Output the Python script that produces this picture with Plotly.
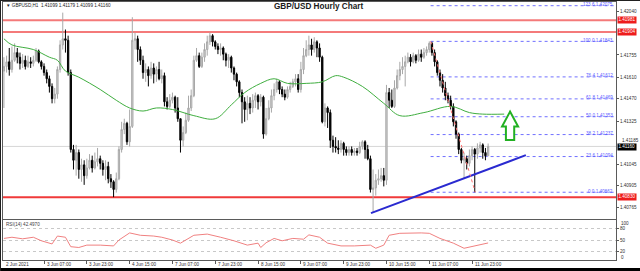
import plotly.graph_objects as go

W, H = 640, 271

def fx(p):
    return p / W

def fy(p):
    return 1 - p / H

# ---------------- data ----------------
bar_index = list(range(182))
first_open = 1.4165
closes = [1.4168,1.4171,1.4166,1.4172,1.4177,1.4174,1.4170,1.4172,1.4168,1.4171,
1.4170,1.4172,1.4178,1.4171,1.4168,1.4164,1.4160,1.4155,1.4147,1.4150,
1.4166,1.4182,1.4186,1.4185,1.4164,1.4114,1.4107,1.4112,1.4101,1.4104,
1.4097,1.4102,1.4107,1.4102,1.4106,1.4108,1.4105,1.4101,1.4103,1.4095,
1.4093,1.4088,1.4095,1.4114,1.4127,1.4131,1.4119,1.4129,1.4185,1.4186,
1.4179,1.4172,1.4164,1.4166,1.4162,1.4167,1.4163,1.4166,1.4160,1.4162,
1.4145,1.4142,1.4146,1.4148,1.4141,1.4134,1.4120,1.4125,1.4133,1.4141,
1.4149,1.4172,1.4175,1.4168,1.4174,1.4179,1.4184,1.4188,1.4184,1.4181,
1.4179,1.4180,1.4176,1.4172,1.4174,1.4167,1.4163,1.4158,1.4151,1.4145,
1.4140,1.4144,1.4141,1.4146,1.4149,1.4145,1.4148,1.4124,1.4134,1.4141,
1.4149,1.4153,1.4158,1.4153,1.4150,1.4148,1.4153,1.4155,1.4158,1.4160,
1.4153,1.4166,1.4175,1.4179,1.4182,1.4179,1.4184,1.4180,1.4174,1.4132,
1.4141,1.4138,1.4120,1.4116,1.4115,1.4114,1.4118,1.4114,1.4112,1.4114,
1.4112,1.4113,1.4112,1.4116,1.4119,1.4114,1.4108,1.4088,1.4089,1.4094,
1.4095,1.4097,1.4094,1.4151,1.4146,1.4142,1.4154,1.4162,1.4166,1.4168,
1.4171,1.4174,1.4171,1.4175,1.4172,1.4176,1.4174,1.4177,1.4179,1.4183,
1.4177,1.4171,1.4164,1.4159,1.4154,1.4149,1.4146,1.4142,1.4132,1.4124,
1.4114,1.4107,1.4108,1.4105,1.4110,1.4114,1.4111,1.4115,1.4117,1.4112,
1.41099,1.41160]
highs = [1.4174,1.4175,1.4180,1.4181,1.4183,1.4180,1.4177,1.4176,1.4175,1.4175,
1.4174,1.4175,1.4180,1.4179,1.4172,1.4170,1.4166,1.4162,1.4157,1.4154,
1.4168,1.4185,1.4203,1.4192,1.4188,1.4166,1.4117,1.4117,1.4114,1.4108,
1.4107,1.4108,1.4111,1.4110,1.4112,1.4115,1.4110,1.4107,1.4107,1.4106,
1.4098,1.4094,1.4099,1.4116,1.4132,1.4134,1.4132,1.4140,1.4200,1.4190,
1.4188,1.4181,1.4175,1.4170,1.4168,1.4171,1.4170,1.4168,1.4171,1.4166,
1.4164,1.4148,1.4150,1.4151,1.4149,1.4148,1.4134,1.4129,1.4138,1.4149,
1.4153,1.4175,1.4180,1.4177,1.4177,1.4183,1.4188,1.4190,1.4189,1.4185,
1.4183,1.4183,1.4181,1.4177,1.4176,1.4175,1.4168,1.4164,1.4159,1.4153,
1.4148,1.4149,1.4148,1.4150,1.4151,1.4150,1.4150,1.4149,1.4141,1.4146,
1.4153,1.4157,1.4160,1.4159,1.4155,1.4153,1.4155,1.4158,1.4160,1.4163,
1.4163,1.4171,1.4180,1.4185,1.4188,1.4186,1.4187,1.4185,1.4183,1.4175,
1.4144,1.4142,1.4140,1.4123,1.4122,1.4120,1.4120,1.4119,1.4116,1.4116,
1.4116,1.4115,1.4115,1.4119,1.4120,1.4120,1.4117,1.4110,1.4101,1.4098,
1.4101,1.4102,1.4102,1.4156,1.4154,1.4153,1.4159,1.4166,1.4171,1.4174,
1.4175,1.4177,1.4176,1.4177,1.4176,1.4179,1.4179,1.4180,1.4181,1.41843,
1.4184,1.4179,1.4172,1.4166,1.4163,1.4158,1.4151,1.4149,1.4144,1.4133,
1.4125,1.4115,1.4112,1.4110,1.4114,1.4116,1.4115,1.4118,1.4119,1.4118,
1.4115,1.41179]
lows = [1.4141,1.4164,1.4162,1.4164,1.4171,1.4170,1.4166,1.4167,1.4166,1.4167,
1.4167,1.4168,1.4171,1.4170,1.4166,1.4162,1.4157,1.4151,1.4144,1.4144,
1.4147,1.4164,1.4179,1.4177,1.4162,1.4112,1.4101,1.4097,1.4095,1.4093,
1.4091,1.4095,1.4101,1.4099,1.4101,1.4103,1.4101,1.4097,1.4094,1.4092,
1.4089,1.4083,1.4086,1.4094,1.4112,1.4124,1.4117,1.4116,1.4128,1.4179,
1.4171,1.4169,1.4160,1.4158,1.4155,1.4160,1.4157,1.4158,1.4159,1.4157,
1.4142,1.4140,1.4141,1.4144,1.4138,1.4132,1.4112,1.4116,1.4124,1.4132,
1.4139,1.4148,1.4171,1.4167,1.4167,1.4171,1.4175,1.4182,1.4181,1.4179,
1.4176,1.4175,1.4172,1.4168,1.4167,1.4164,1.4159,1.4155,1.4148,1.4131,
1.4132,1.4133,1.4137,1.4138,1.4141,1.4140,1.4142,1.4121,1.4123,1.4133,
1.4138,1.4146,1.4151,1.4150,1.4148,1.4146,1.4147,1.4151,1.4154,1.4155,
1.4151,1.4151,1.4163,1.4174,1.4175,1.4175,1.4177,1.4174,1.4171,1.4131,
1.4129,1.4128,1.4115,1.4112,1.4112,1.4111,1.4112,1.4110,1.4110,1.4110,
1.4110,1.4110,1.4110,1.4111,1.4114,1.4108,1.4107,1.4086,1.4073,1.4084,
1.4091,1.4093,1.4090,1.4091,1.4141,1.4141,1.4141,1.4153,1.4159,1.4163,
1.4155,1.4170,1.4168,1.4170,1.4170,1.4171,1.4171,1.4173,1.4175,1.4177,
1.4175,1.4168,1.4162,1.4155,1.4151,1.4146,1.4144,1.4140,1.4129,1.4121,
1.4111,1.4105,1.4095,1.4101,1.4103,1.4107,1.40862,1.4108,1.4112,1.4108,
1.4107,1.41099]
opens = [first_open] + closes[:-1]

ma_idx = [0,3,11,17,20,23,28,36,42,47,52,57,63,71,79,85,90,96,101,106,113,119,124,127,134,142,148,157,167,174,179,187]
ma_val = [1.4186,1.4182,1.4179,1.4174,1.4172,1.4165,1.4161,1.4153,1.4146,1.4141,1.4139,1.4141,1.4140,1.4136,1.4134,1.4143,
          1.4151,1.4157,1.4160,1.4157,1.4157,1.4158,1.4162,1.4161,1.4155,1.4144,1.4136,1.4138,1.4142,1.4138,1.4137,1.4137]

rsi_idx = [0,3,7,11,14,18,20,23,25,28,31,36,41,43,47,51,56,59,63,66,71,76,81,86,91,95,96,98,101,104,
           108,112,114,118,121,126,131,137,139,142,144,148,156,159,163,168,172,176,178,181]
rsi_val = [54,57,53,57,48,40,60,57,33,31,37,37,35,50,68,62,60,57,50,42,62,65,57,48,37,42,31,43,54,48,
           54,52,63,57,42,35,35,37,29,37,62,67,68,67,54,42,29,35,37,42.497]
rsi_levels = [80, 50, 20]

fib_pct = ["0.0", "23.6", "38.2", "50.0", "61.8", "76.4", "100.0", "123.6"]
fib_price = [1.40862, 1.41094, 1.41237, 1.41353, 1.41469, 1.41612, 1.41843, 1.42075]
fib_anchor_idx = [159.5, 176.2]
fib_anchor_price = [1.41843, 1.40862]

resist_levels = [1.41981, 1.41904]
support_level = 1.40830
current_price = 1.41160

trend_idx = [137.2, 195.1]
trend_price = [1.40726, 1.41103]

arrow_idx = 189.2
arrow_top, arrow_neck, arrow_bottom = 1.41386, 1.41289, 1.41202
arrow_head_half, arrow_shaft_half = 3.0, 1.55

price_ticks = [1.42040, 1.41755, 1.41610, 1.41470, 1.41325, 1.41045, 1.40905, 1.40765]
price_tick_near_bid = 1.41185
date_idx = [0, 15, 31, 47, 63, 79, 95, 111, 127, 143, 159, 175]
date_text = ["2 Jun 2021", "3 Jun 07:00", "3 Jun 23:00", "4 Jun 15:00", "7 Jun 07:00", "7 Jun 23:00",
             "8 Jun 15:00", "9 Jun 07:00", "9 Jun 23:00", "10 Jun 15:00", "11 Jun 07:00", "11 Jun 23:00"]
header_text = "\u25bc GBPUSD,H1  1.41099 1.41179 1.41099 1.41160"
title_text = "GBP/USD Hourly Chart"
rsi_text = "RSI(14) 42.4970"

# ---------------- figure ----------------
FONT = "Liberation Sans"
SMALL = 4.6
X_RANGE = [-0.34, 228.8]

fig = go.Figure()

fig.add_trace(go.Candlestick(
    x=bar_index, open=opens, high=highs, low=lows, close=closes,
    increasing=dict(line=dict(color="#a8a8a8", width=1), fillcolor="#d4d4d4"),
    decreasing=dict(line=dict(color="#000000", width=1), fillcolor="#000000"),
    whiskerwidth=0, hoverinfo="skip", showlegend=False, xaxis="x", yaxis="y"))

fig.add_trace(go.Scatter(x=ma_idx, y=ma_val, mode="lines", line=dict(color="#3fae3f", width=1, shape="spline"),
                         hoverinfo="skip", showlegend=False, xaxis="x", yaxis="y"))

fig.add_trace(go.Scatter(x=trend_idx, y=trend_price, mode="lines", line=dict(color="#2a2ad0", width=2),
                         hoverinfo="skip", showlegend=False, xaxis="x", yaxis="y"))

fig.add_trace(go.Scatter(x=rsi_idx, y=rsi_val, mode="lines", line=dict(color="#f08080", width=1),
                         hoverinfo="skip", showlegend=False, xaxis="x2", yaxis="y2"))

shapes = []
shapes.append(dict(type="line", xref="x domain", x0=0, x1=1, yref="y", y0=current_price, y1=current_price,
                   line=dict(color="#d6d6d6", width=1), layer="below"))
for lv in resist_levels:
    shapes.append(dict(type="line", xref="x domain", x0=0, x1=1, yref="y", y0=lv, y1=lv,
                       line=dict(color="#f47a7a", width=2), layer="below"))
shapes.append(dict(type="line", xref="x domain", x0=0, x1=1, yref="y", y0=support_level, y1=support_level,
                   line=dict(color="#f03a3a", width=2), layer="below"))
for fp in fib_price:
    shapes.append(dict(type="line", xref="x", x0=fib_anchor_idx[0], x1=X_RANGE[1], yref="y", y0=fp, y1=fp,
                       line=dict(color="#7070ff", width=1, dash="dot"), layer="below"))
shapes.append(dict(type="line", xref="x", x0=fib_anchor_idx[0], x1=fib_anchor_idx[1], yref="y",
                   y0=fib_anchor_price[0], y1=fib_anchor_price[1],
                   line=dict(color="#ff7070", width=1, dash="dot")))
ax = arrow_idx
path = (f"M {ax-arrow_shaft_half},{arrow_bottom} L {ax-arrow_shaft_half},{arrow_neck} "
        f"L {ax-arrow_head_half},{arrow_neck} L {ax},{arrow_top} L {ax+arrow_head_half},{arrow_neck} "
        f"L {ax+arrow_shaft_half},{arrow_neck} L {ax+arrow_shaft_half},{arrow_bottom} Z")
shapes.append(dict(type="path", xref="x", yref="y", path=path, fillcolor="white",
                   line=dict(color="#22b022", width=2)))
shapes.append(dict(type="rect", xref="paper", yref="paper", x0=0, x1=1, y0=0, y1=fy(268),
                   fillcolor="#000000", line=dict(width=0)))
shapes.append(dict(type="line", xref="paper", yref="paper", x0=fx(0.5), x1=fx(0.5), y0=0, y1=1,
                   line=dict(color="#202020", width=1)))
shapes.append(dict(type="line", xref="paper", yref="paper", x0=0, x1=1, y0=fy(0.5), y1=fy(0.5),
                   line=dict(color="#202020", width=1)))

ann = []
ann.append(dict(text=header_text, xref="paper", yref="paper", x=fx(4), y=fy(5.5), xanchor="left", yanchor="middle",
                showarrow=False, font=dict(family=FONT, size=SMALL, color="#202020")))
ann.append(dict(text="<b>" + title_text + "</b>", xref="paper", yref="paper", x=fx(318), y=fy(7),
                xanchor="center", yanchor="middle", showarrow=False, font=dict(family=FONT, size=8.2, color="#1a1a1a")))
for pct, fp in zip(fib_pct, fib_price):
    ann.append(dict(text=f"{pct} {fp:.5f}", xref="paper", yref="y", x=fx(615), y=fp, xanchor="right",
                    yanchor="middle", yshift=1, showarrow=False, font=dict(family=FONT, size=SMALL, color="#5a5aff")))
# price label sitting just above the bid box
ann.append(dict(text=f"{price_tick_near_bid:.5f}", xref="paper", yref="y", x=fx(619.5), y=price_tick_near_bid,
                xanchor="left", yanchor="middle", yshift=2.5, showarrow=False,
                font=dict(family=FONT, size=SMALL, color="#303030")))
for lv in resist_levels + [support_level]:
    ann.append(dict(text=f"{lv:.5f}", xref="paper", yref="y", x=fx(617), y=lv, xanchor="left", yanchor="middle",
                    showarrow=False, bgcolor="#ee1c1c", borderpad=0.4,
                    font=dict(family=FONT, size=SMALL, color="white")))
ann.append(dict(text=f"{current_price:.5f}", xref="paper", yref="y", x=fx(617), y=current_price, xanchor="left",
                yanchor="middle", yshift=-1, showarrow=False, bgcolor="#000000", borderpad=0.4,
                font=dict(family=FONT, size=SMALL, color="white")))
ann.append(dict(text=rsi_text, xref="paper", yref="paper", x=fx(4), y=fy(224.5), xanchor="left", yanchor="middle",
                showarrow=False, font=dict(family=FONT, size=SMALL, color="#404040")))
ann.append(dict(text="100", xref="paper", yref="paper", x=fx(619), y=fy(223.3), xanchor="left", yanchor="middle",
                showarrow=False, font=dict(family=FONT, size=SMALL, color="#303030")))
ann.append(dict(text="0", xref="paper", yref="paper", x=fx(619), y=fy(257), xanchor="left", yanchor="middle",
                showarrow=False, font=dict(family=FONT, size=SMALL, color="#303030")))
for di, dt in zip(date_idx, date_text):
    ann.append(dict(text=dt, xref="x", yref="paper", x=di, y=fy(264.3), xanchor="left", yanchor="middle",
                    xshift=0.5, showarrow=False, font=dict(family=FONT, size=SMALL, color="#303030")))

AX_LINE = "#5a5a5a"
fig.update_layout(
    width=W, height=H, margin=dict(l=0, r=0, t=0, b=0),
    paper_bgcolor="white", plot_bgcolor="white", showlegend=False,
    shapes=shapes, annotations=ann,
    xaxis=dict(domain=[fx(3), fx(616)], range=X_RANGE, type="linear", showgrid=False, zeroline=False,
               showticklabels=False, ticks="", showline=True, mirror=True, linecolor=AX_LINE, linewidth=1,
               rangeslider=dict(visible=False), anchor="y"),
    yaxis=dict(domain=[fy(219), fy(2)], range=[1.40688, 1.42099], side="right", showgrid=False, zeroline=False,
               tickmode="array", tickvals=price_ticks, ticktext=[f"{v:.5f}" for v in price_ticks],
               ticks="outside", ticklen=2, tickcolor=AX_LINE, tickfont=dict(family=FONT, size=SMALL, color="#303030"),
               showline=True, mirror=True, linecolor=AX_LINE, linewidth=1, anchor="x"),
    xaxis2=dict(domain=[fx(3), fx(616)], range=X_RANGE, type="linear", showgrid=False, zeroline=False,
                tickmode="array", tickvals=date_idx[1:], showticklabels=False, ticks="outside", ticklen=3,
                tickcolor=AX_LINE, showline=True, mirror=True, linecolor=AX_LINE, linewidth=1, anchor="y2"),
    yaxis2=dict(domain=[fy(259.7), fy(220.3)], range=[0, 100], side="right", zeroline=False,
                tickmode="array", tickvals=rsi_levels, ticktext=[str(v) for v in rsi_levels],
                showgrid=True, gridcolor="#c8c8c8", griddash="dot", gridwidth=1,
                ticks="outside", ticklen=2, tickcolor=AX_LINE, tickfont=dict(family=FONT, size=SMALL, color="#303030"),
                showline=True, mirror=True, linecolor=AX_LINE, linewidth=1, anchor="x2"),
)

fig.write_html("out.html")
